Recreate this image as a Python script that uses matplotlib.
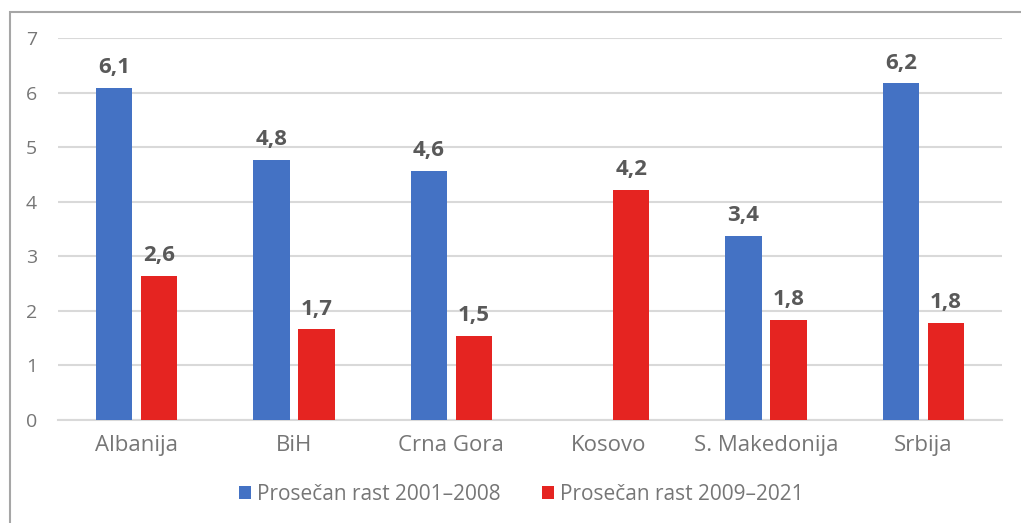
import matplotlib.pyplot as plt
import numpy as np
from matplotlib.patches import Rectangle

plt.rcParams['font.family'] = ['Open Sans', 'DejaVu Sans']

countries = ['Albanija', 'BiH', 'Crna Gora', 'Kosovo', 'S. Makedonija', 'Srbija']
rast_2001_2008 = [6.08, 4.77, 4.57, np.nan, 3.38, 6.17]
rast_2009_2021 = [2.64, 1.66, 1.54, 4.22, 1.83, 1.78]
series_names = ['Prosečan rast 2001–2008', 'Prosečan rast 2009–2021']
yticks = [0, 1, 2, 3, 4, 5, 6, 7]

blue = '#4472C4'
red = '#E52421'
W, H = 1021, 523

fig = plt.figure(figsize=(W / 100, H / 100), dpi=100)
ax = fig.add_axes([58 / W, (H - 420) / H, (1002 - 58) / W, (420 - 38) / H])

x = np.arange(len(countries))
bw = 0.23
off = 0.143
b1 = ax.bar(x - off, rast_2001_2008, bw, color=blue, label=series_names[0], zorder=3)
b2 = ax.bar(x + off, rast_2009_2021, bw, color=red, label=series_names[1], zorder=3)

for bars, vals in ((b1, rast_2001_2008), (b2, rast_2009_2021)):
    for rect, v in zip(bars, vals):
        if np.isnan(v):
            continue
        ax.annotate(f'{v:.1f}'.replace('.', ','),
                    (rect.get_x() + rect.get_width() / 2, v),
                    xytext=(0, 7), textcoords='offset points',
                    ha='center', va='bottom', fontsize=16, fontweight='bold',
                    color='#595959')

ax.set_xlim(-0.5, len(countries) - 0.5)
ax.set_ylim(0, 7)
ax.set_yticks(yticks)
ax.set_xticks(x)
ax.set_xticklabels(countries)
ax.grid(axis='y', color='#d9d9d9', lw=1.5, zorder=0)
for s in ['top', 'right', 'left']:
    ax.spines[s].set_visible(False)
ax.spines['bottom'].set_color('#d9d9d9')
ax.spines['bottom'].set_linewidth(1.5)
ax.tick_params(axis='both', length=0, colors='#767676')
ax.tick_params(axis='y', labelsize=14, pad=15)
ax.tick_params(axis='x', labelsize=16, pad=11)

fig.legend(loc='center', bbox_to_anchor=(521 / W, (H - 494) / H), ncol=2,
           frameon=False, fontsize=15, handlelength=0.6, handleheight=0.6,
           handletextpad=0.25, columnspacing=2.0, labelcolor='#767676')

fig.patches.append(Rectangle((10 / W, -0.1), 1.2, 0.1 + (H - 12) / H,
                             transform=fig.transFigure, fill=False,
                             edgecolor='#a6a6a6', lw=1.5))

fig.savefig('out.png', dpi=100)
